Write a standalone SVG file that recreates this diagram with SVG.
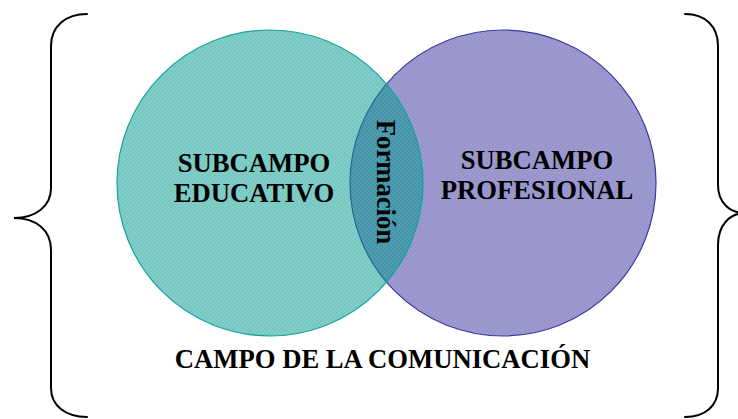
<svg xmlns="http://www.w3.org/2000/svg" width="738" height="419" viewBox="0 0 738 419">
  <defs>
    <style>
      .lbl { font-family: "Liberation Serif", "Times New Roman", serif; font-weight: bold; font-size: 26.67px; fill: #000; text-anchor: middle; }
      .brace { fill: none; stroke: #000; stroke-width: 2; stroke-linecap: round; }
    </style>
    <pattern id="chk" width="4" height="4" patternUnits="userSpaceOnUse">
      <rect x="0" y="0" width="2" height="2" fill="#000" fill-opacity="0.04"/>
      <rect x="2" y="2" width="2" height="2" fill="#000" fill-opacity="0.04"/>
    </pattern>
  </defs>
  <rect width="738" height="419" fill="#fff"/>

  <g id="braces">
    <path class="brace" d="M87,14 C66,14 51,26 51,46 L51,188 C51,206 36,218 14,218 C36,218 51,230 51,250 L51,388 C51,406 66,417 87,417"/>
    <path class="brace" d="M685,14 C705,14 718,26 718,46 L718,185 C718,203 730,213 745,213 C730,213 718,225 718,245 L718,388 C718,406 705,417 685,417"/>
  </g>

  <g id="subcampo-profesional">
    <circle cx="503" cy="183" r="153" fill="#9c9ad0" stroke="#3b3aa0" stroke-width="1.2"/>
    <circle cx="503" cy="183" r="153" fill="url(#chk)"/>
  </g>
  <g id="subcampo-educativo">
    <circle cx="270" cy="183" r="153" fill="#00a094" fill-opacity="0.5" stroke="#16a3a0" stroke-width="1.2"/>
    <circle cx="270" cy="183" r="153" fill="url(#chk)"/>
  </g>

  <g id="connectors"></g>

  <g id="labels">
    <text class="lbl" x="254" y="172">SUBCAMPO</text>
    <text class="lbl" x="254" y="202">EDUCATIVO</text>
    <text class="lbl" x="537" y="169">SUBCAMPO</text>
    <text class="lbl" x="537" y="199">PROFESIONAL</text>
    <text class="lbl" x="0" y="9" transform="translate(386,182) rotate(90)">Formación</text>
    <text class="lbl" x="382.5" y="368">CAMPO DE LA COMUNICACIÓN</text>
  </g>
</svg>
